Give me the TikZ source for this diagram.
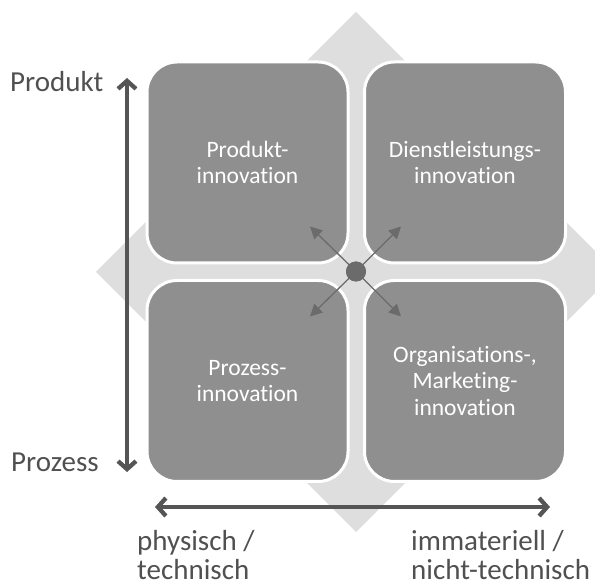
\documentclass[tikz,border=0pt]{standalone}
\usepackage{fontspec}
\setmainfont{Carlito}[RawFeature={-liga}]
\usetikzlibrary{arrows.meta}
\definecolor{boxgray}{HTML}{8F8F8F}
\definecolor{diamondgray}{HTML}{DEDEDE}
\definecolor{axisgray}{HTML}{555555}
\definecolor{labelgray}{HTML}{505050}
\definecolor{centergray}{HTML}{6B6B6B}
\tikzset{
  quad/.style={draw=white, line width=3pt, fill=boxgray, rounded corners=30pt,
    minimum width=201pt, minimum height=201pt, inner sep=0pt,
    text=white, align=center, font=\fontsize{23.5}{26.5}\selectfont},
  axislabel/.style={text=labelgray, inner sep=0pt, align=left,
    font=\fontsize{29}{29}\selectfont},
  axisarrow/.style={draw=axisgray, line width=4.3pt,
    {Straight Barb[length=8pt,width=18pt,line width=4.3pt]}-{Straight Barb[length=8pt,width=18pt,line width=4.3pt]}},
  diagarrow/.style={draw=centergray, line width=1.3pt,
    -{Triangle[length=12pt,width=12pt]}},
}
\begin{document}
\begin{tikzpicture}[x=1pt,y=1pt]
\useasboundingbox (0,0) rectangle (595,587);
\begin{scope}
\clip (0,0) rectangle (595,587);
\fill[diamondgray] (356,575) -- (616,315) -- (356,55) -- (96,315) -- cycle;
\end{scope}
% boxes
\node[quad] (pi) at (247.5,424.5) {Produkt-\\innovation};
\node[quad] (di) at (465,424.5) {Dienstleistungs-\\innovation};
\node[quad] (pz) at (247.5,206) {Prozess-\\innovation};
\node[quad] (om) at (465,206) {Organisations-,\\Marketing-\\innovation};
% center and diagonal arrows
\node[circle, fill=centergray, minimum size=20pt, inner sep=0pt] (c) at (356,315.5) {};
\coordinate (tl) at (310,360.5);
\coordinate (tr) at (401,360.5);
\coordinate (bl) at (310,270.5);
\coordinate (br) at (401,270.5);
\draw[diagarrow] (c.center) -- (tl);
\draw[diagarrow] (c.center) -- (tr);
\draw[diagarrow] (c.center) -- (bl);
\draw[diagarrow] (c.center) -- (br);
\node[circle, fill=centergray, minimum size=20pt, inner sep=0pt] at (c) {};
% axes
\coordinate (vtop) at (127,509);
\coordinate (vbot) at (127,115);
\coordinate (hl) at (155,80);
\coordinate (hr) at (550,80);
\draw[axisarrow] (vbot) -- (vtop);
\draw[axisarrow] (hl) -- (hr);
% labels
\node[axislabel, anchor=base west] (lprod) at (10,495) {Produkt};
\node[axislabel, anchor=base west] (lproz) at (11,115) {Prozess};
\node[axislabel, anchor=base west] (lphys) at (137,8) {physisch /\\technisch};
\node[axislabel, anchor=base west] (limm) at (411,8) {immateriell /\\nicht-technisch};
\end{tikzpicture}
\end{document}
